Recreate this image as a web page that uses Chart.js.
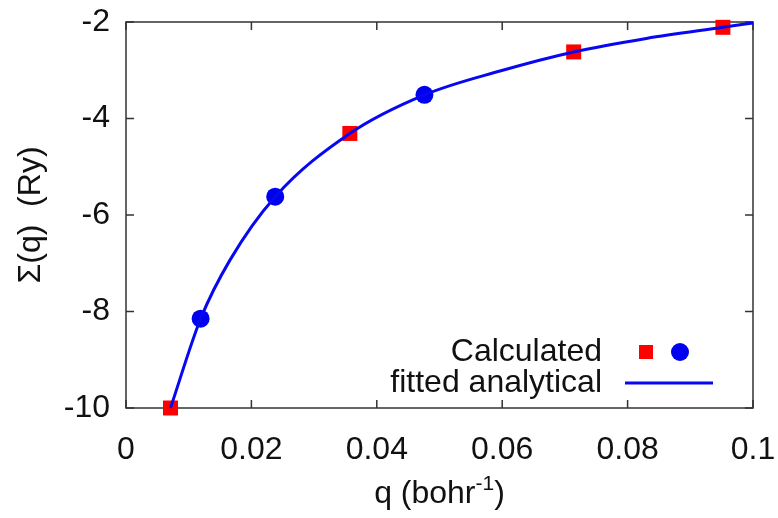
<!DOCTYPE html>
<html>
<head>
<meta charset="utf-8">
<script src="https://cdn.jsdelivr.net/npm/chart.js@4"></script>
<style>
  html, body { margin: 0; padding: 0; background: #fff; }
  #wrap { width: 778px; height: 518px; }
</style>
</head>
<body>
<div id="wrap"><canvas id="chart" width="778" height="518"></canvas></div>
<script>
// calculated points
const squareQ = [0.0071, 0.0357, 0.0714, 0.0952];
const squareS = [-10.0, -4.31, -2.62, -2.11];
const circleQ = [0.0119, 0.0238, 0.0476];
const circleS = [-8.15, -5.62, -3.51];

// fitted analytical curve, sampled by eye along the drawn line
const fitQ = [0.0071, 0.0119, 0.0166, 0.0238, 0.0357, 0.0476, 0.0598, 0.0714, 0.0830, 0.0952, 0.1000];
const fitS = [-10.0, -8.15, -6.93, -5.62, -4.31, -3.51, -3.01, -2.62, -2.34, -2.11, -2.02];

const xTickLabels = ["0", "0.02", "0.04", "0.06", "0.08", "0.1"];
const yTickLabels = ["-10", "-8", "-6", "-4", "-2"];

const FONT = "'Liberation Sans', Arial, sans-serif";
const FS = 32;
const LINE_BLUE = "#0808f0";

function pts(xs, ys) {
    return xs.map((x, i) => ({ x: x, y: ys[i] }));
}

// frame + inward ticks on all four sides (gnuplot look)
const framePlugin = {
    id: "frame",
    beforeDatasetsDraw(chart) {
        const { ctx, chartArea: a, scales } = chart;
        const len = 8;
        ctx.save();
        ctx.strokeStyle = "#333";
        ctx.lineWidth = 1.5;
        ctx.strokeRect(a.left, a.top, a.right - a.left, a.bottom - a.top);
        ctx.beginPath();
        scales.x.ticks.forEach(t => {
            const px = scales.x.getPixelForValue(t.value);
            ctx.moveTo(px, a.bottom); ctx.lineTo(px, a.bottom - len);
            ctx.moveTo(px, a.top); ctx.lineTo(px, a.top + len);
        });
        scales.y.ticks.forEach(t => {
            const py = scales.y.getPixelForValue(t.value);
            ctx.moveTo(a.left, py); ctx.lineTo(a.left + len, py);
            ctx.moveTo(a.right, py); ctx.lineTo(a.right - len, py);
        });
        ctx.stroke();
        ctx.restore();
    }
};

// x title with raised exponent, and the key in the lower right
const textPlugin = {
    id: "texts",
    afterDraw(chart) {
        const { ctx, chartArea: a } = chart;
        ctx.save();
        ctx.fillStyle = "#111";

        // x axis title: q (bohr^-1)
        const main = FS + "px " + FONT, sup = "21px " + FONT;
        ctx.font = main;
        const w1 = ctx.measureText("q (bohr").width;
        const w3 = ctx.measureText(")").width;
        ctx.font = sup;
        const w2 = ctx.measureText("-1").width;
        const cx = (a.left + a.right) / 2;
        let x = cx - (w1 + w2 + w3) / 2;
        const base = 503;
        ctx.textBaseline = "alphabetic";
        ctx.textAlign = "left";
        ctx.font = main;
        ctx.fillText("q (bohr", x, base);
        x += w1;
        ctx.font = sup;
        ctx.fillText("-1", x, base - 13);
        x += w2;
        ctx.font = main;
        ctx.fillText(")", x, base);

        // key
        const tx = a.right - 151;
        const y1 = a.bottom - 56, y2 = a.bottom - 25;
        ctx.font = FS + "px " + FONT;
        ctx.textAlign = "right";
        ctx.textBaseline = "middle";
        ctx.fillText("Calculated", tx, y1);
        ctx.fillText("fitted analytical", tx, y2);

        ctx.fillStyle = "#f00";
        ctx.fillRect(a.right - 107 - 7, y1 - 7, 14, 14);
        ctx.fillStyle = "#0000f0";
        ctx.beginPath();
        ctx.arc(a.right - 73, y1, 9, 0, Math.PI * 2);
        ctx.fill();

        ctx.strokeStyle = LINE_BLUE;
        ctx.lineWidth = 3;
        ctx.beginPath();
        ctx.moveTo(a.right - 128, y2);
        ctx.lineTo(a.right - 40, y2);
        ctx.stroke();
        ctx.restore();
    }
};

new Chart(document.getElementById("chart"), {
    type: "scatter",
    data: {
        datasets: [
            {
                label: "fitted analytical",
                data: pts(fitQ, fitS),
                showLine: true,
                borderColor: LINE_BLUE,
                borderWidth: 3,
                pointRadius: 0,
                cubicInterpolationMode: "monotone",
                clip: false
            },
            {
                label: "Calculated",
                data: pts(circleQ, circleS),
                pointStyle: "circle",
                pointRadius: 9,
                backgroundColor: "#0000f0",
                borderWidth: 0,
                clip: false
            },
            {
                label: "Calculated squares",
                data: pts(squareQ, squareS),
                pointStyle: "rect",
                pointRadius: 10.6,
                backgroundColor: "#f00",
                borderWidth: 0,
                clip: false
            }
        ]
    },
    options: {
        responsive: false,
        animation: false,
        events: [],
        layout: { padding: { top: 22, right: 25, left: 0, bottom: 0 } },
        plugins: { legend: { display: false }, tooltip: { enabled: false } },
        scales: {
            x: {
                type: "linear",
                min: 0,
                max: 0.1,
                border: { display: false },
                grid: { display: false, drawTicks: false },
                ticks: {
                    stepSize: 0.02,
                    padding: 23,
                    color: "#111",
                    font: { family: FONT, size: FS },
                    maxRotation: 0,
                    callback: v => xTickLabels[Math.round(v / 0.02)]
                },
                afterFit: s => {
                    s.height = 110;
                    s.paddingLeft = 0;
                    s.paddingRight = 0;
                }
            },
            y: {
                type: "linear",
                min: -10,
                max: -2,
                border: { display: false },
                grid: { display: false, drawTicks: false },
                ticks: {
                    stepSize: 2,
                    padding: 16,
                    color: "#111",
                    font: { family: FONT, size: FS },
                    callback: v => yTickLabels[Math.round((v + 10) / 2)]
                },
                title: {
                    display: true,
                    text: "Σ(q)  (Ry)",
                    color: "#111",
                    font: { family: FONT, size: FS },
                    padding: { top: 12, bottom: 0 }
                },
                afterFit: s => {
                    s.width = 126;
                    s.paddingTop = 0;
                    s.paddingBottom = 0;
                }
            }
        }
    },
    plugins: [framePlugin, textPlugin]
});
</script>
</body>
</html>
